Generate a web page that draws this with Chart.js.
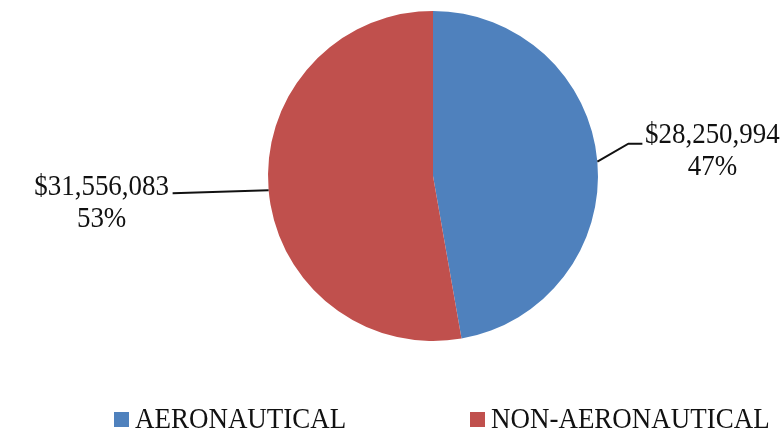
<!DOCTYPE html>
<html>
<head>
<meta charset="utf-8">
<script src="https://cdn.jsdelivr.net/npm/chart.js@4"></script>
<style>
  html, body { margin: 0; padding: 0; background: #fff; }
</style>
</head>
<body>
<canvas id="chart" width="784" height="431"></canvas>
<script>
const categories = ["AERONAUTICAL", "NON-AERONAUTICAL"];
const revenue = [28250994, 31556083];
const colors = ["#4F81BD", "#C0504D"];

const FONT = '29px "Liberation Serif", "Times New Roman", serif';
const SQUEEZE = 0.93; // text in the picture is a bit narrow
const TEXT_COLOR = "#111";

// where each callout goes, relative to the middle of its slice edge
const callouts = [
  { elbow: [31, -18], end: [45, -18], textX: 115, lines: [-1, 31] },
  { elbow: [-96, 3], end: [-96, 3], textX: -167, lines: [2, 34] },
];

// legend square positions along the bottom
const legendItems = [
  { x: 114, text: 135 },
  { x: 470, text: 491 },
];

function squeezedText(ctx, str, x, y, align) {
  ctx.save();
  ctx.translate(x, y);
  ctx.scale(SQUEEZE, 1);
  ctx.textAlign = align;
  ctx.fillText(str, 0, 0);
  ctx.restore();
}

const calloutPlugin = {
  id: "callouts",
  afterDraw(chart) {
    const ctx = chart.ctx;
    const meta = chart.getDatasetMeta(0);
    const values = chart.data.datasets[0].data;
    const total = values.reduce((a, b) => a + b, 0);

    ctx.save();
    ctx.font = FONT;
    ctx.fillStyle = TEXT_COLOR;
    ctx.textBaseline = "alphabetic";

    meta.data.forEach((arc, i) => {
      const p = arc.getProps(["x", "y", "startAngle", "endAngle", "outerRadius"], true);
      const mid = (p.startAngle + p.endAngle) / 2;
      const sx = p.x + Math.cos(mid) * p.outerRadius;
      const sy = p.y + Math.sin(mid) * p.outerRadius;
      const c = callouts[i];

      ctx.beginPath();
      ctx.strokeStyle = "#111";
      ctx.lineWidth = 2;
      ctx.moveTo(sx, sy);
      ctx.lineTo(sx + c.elbow[0], sy + c.elbow[1]);
      ctx.lineTo(sx + c.end[0], sy + c.end[1]);
      ctx.stroke();

      const ey = sy + c.end[1];
      const tx = sx + c.textX;
      const money = "$" + values[i].toLocaleString("en-US");
      const pct = Math.round(values[i] / total * 100) + "%";
      squeezedText(ctx, money, tx, ey + c.lines[0], "center");
      squeezedText(ctx, pct, tx, ey + c.lines[1], "center");
    });

    // legend
    legendItems.forEach((item, i) => {
      ctx.fillStyle = colors[i];
      ctx.fillRect(item.x, 412, 15, 15);
      ctx.fillStyle = TEXT_COLOR;
      squeezedText(ctx, categories[i], item.text, 428, "left");
    });
    ctx.restore();
  },
};

new Chart(document.getElementById("chart"), {
  type: "pie",
  data: {
    labels: categories,
    datasets: [
      {
        data: revenue,
        backgroundColor: colors,
        borderWidth: 0,
      },
    ],
  },
  options: {
    responsive: false,
    animation: false,
    layout: { padding: { left: 268, right: 186, top: 11, bottom: 90 } },
    plugins: {
      legend: { display: false },
      tooltip: { enabled: false },
    },
  },
  plugins: [calloutPlugin],
});
</script>
</body>
</html>
